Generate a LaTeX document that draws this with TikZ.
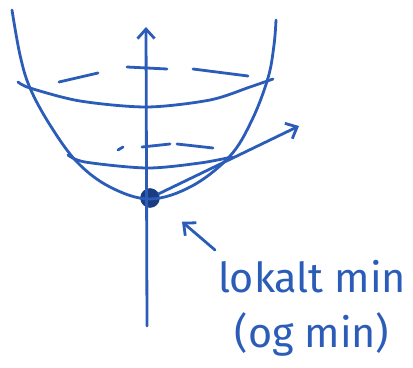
\documentclass[tikz,border=0pt]{standalone}
\usepackage{fontspec}
\setmainfont{Fira Sans}
\usepackage{xcolor}
\definecolor{cPen}{HTML}{2B5CB8}
\definecolor{cDot}{HTML}{1B3C80}
\usetikzlibrary{arrows.meta,calc}
\tikzset{
  pen/.style={draw=cPen,line width=2.1pt,line cap=round,line join=round},
  pen-arrow/.style={pen,-{Straight Barb[length=2.5mm,width=4.5mm]}},
  node-dot/.style={circle,fill=cDot,draw=cDot,minimum size=5mm,inner sep=0pt},
  node-label/.style={text=cPen,align=center,font=\fontsize{31}{41}\selectfont},
}

\begin{document}
\begin{tikzpicture}[x=0.75pt,y=-0.75pt]
  \useasboundingbox (0,0) rectangle (413,367);
  \node[node-dot] (min) at (150,198) {};
  \node[node-label,anchor=north] (lbl) at (312,256) {lokalt min\\(og min)};
  \coordinate (axbot) at (147,326);
  \coordinate (axtop) at (146,27);
  \coordinate (dirtip) at (299,126);
  \coordinate (lbltail) at (215,250);
  % skål og nivåkurver
  \draw[pen] plot[smooth,tension=0.6] coordinates {(12,10) (20,55) (30,88)
    (50,125) (77,162) (110,187) (150,199) (192,186) (230,156) (252,120)
    (268,78) (274,45) (276,20)};
  \draw[pen] plot[smooth] coordinates {(18,82) (30,88) (80,101) (147,107)
    (210,100) (250,87) (273,79)};
  \draw[pen] (59,82) -- (98,73) (127,67) -- (167,69) (193,69) -- (248,76);
  \draw[pen] plot[smooth] coordinates {(68,155) (85,162) (147,168)
    (200,163) (232,157)};
  \draw[pen] (118,150) -- (123,147) (142,147) -- (170,144) (177,144) -- (213,148);
  % akse og retning
  \draw[pen-arrow] (axbot) -- (axtop);
  \draw[pen-arrow] (min) -- (dirtip);
  \draw[pen-arrow,shorten >=2pt] (lbltail) -- ($(min)+(30,22)$);
\end{tikzpicture}
\end{document}
